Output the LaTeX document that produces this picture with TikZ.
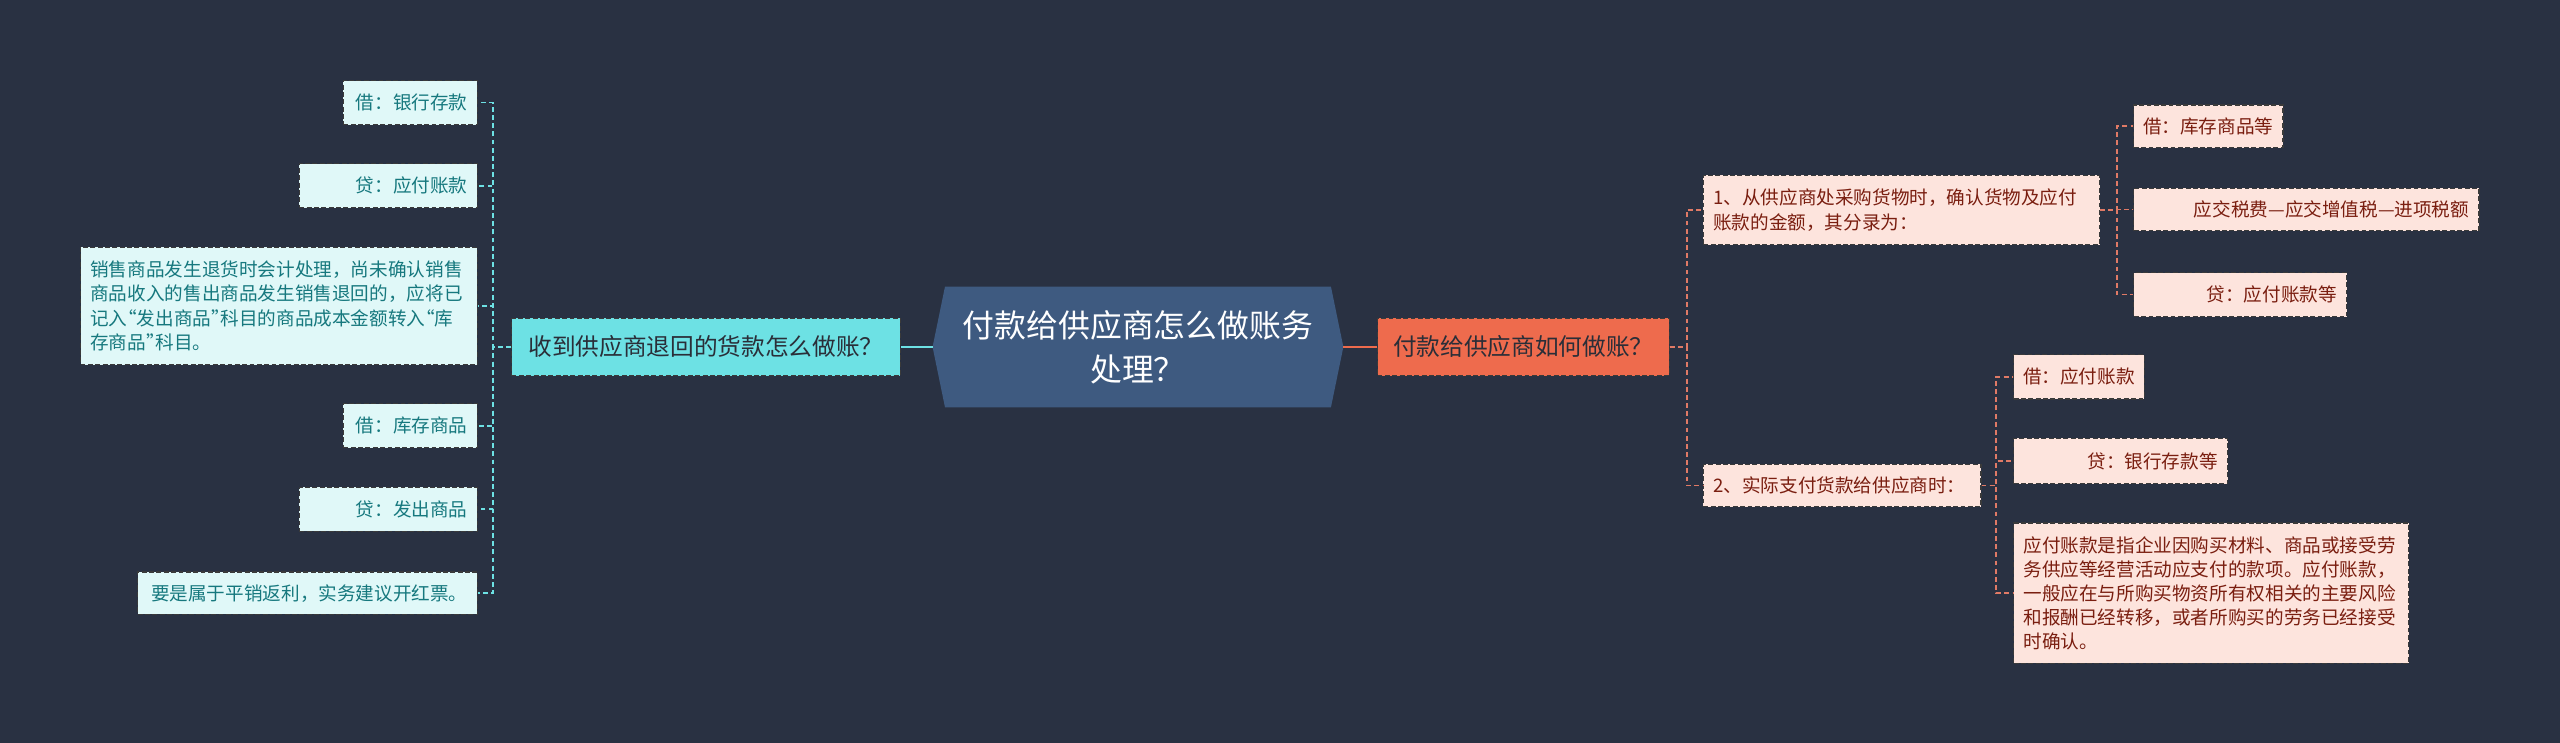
\documentclass[tikz,border=0pt]{standalone}
\usepackage{fontspec}
\newfontfamily\cjk{Noto Sans CJK SC}
\usetikzlibrary{backgrounds}
\definecolor{bgc}{HTML}{293142}
\definecolor{cfill}{HTML}{3E5A80}
\definecolor{cyanc}{HTML}{6DE1E4}
\definecolor{lfill}{HTML}{E0F8F8}
\definecolor{ltext}{HTML}{16787E}
\definecolor{orangec}{HTML}{EE6B4D}
\definecolor{rfill}{HTML}{FDE4DD}
\definecolor{rtext}{HTML}{7A1E10}
\definecolor{oline}{HTML}{E07A66}
\definecolor{bord}{HTML}{3A3A3A}
\definecolor{btext}{HTML}{2A2E38}
\newcommand{\myoq}{\makebox[0.5em][r]{“}}
\newcommand{\mycq}{\makebox[0.5em][l]{”}}
\tikzset{
  leaf/.style={draw=bord, dash pattern=on 3pt off 1.5pt, line width=0.7pt, inner xsep=6pt, inner ysep=0pt, anchor=north west, font=\cjk\fontsize{11.4}{14.8}\selectfont},
  lleaf/.style={leaf, fill=lfill, text=ltext},
  rleaf/.style={leaf, fill=rfill, text=rtext},
  lconn/.style={draw=cyanc, line width=1pt, dash pattern=on 3pt off 2pt},
  rconn/.style={draw=oline, line width=1pt, dash pattern=on 3pt off 2pt},
  branch/.style={draw=bord, dash pattern=on 3pt off 1.5pt, line width=0.7pt, inner xsep=6pt, inner ysep=0pt, anchor=west, font=\cjk\fontsize{14.5}{18}\selectfont, minimum height=35pt},
  rootnode/.style={inner sep=0pt, minimum width=236pt, minimum height=73.5pt, align=center, text=white, font=\cjk\fontsize{19.5}{27}\selectfont}
}
\begin{document}
\begin{tikzpicture}[x=1pt,y=-1pt]
\useasboundingbox (0,0) rectangle (1568,455);
% root
\node[rootnode] (c) at (697,212.5) {付款给供应商怎么做账务\\处理？};
\begin{scope}[on background layer]
  \fill[bgc] (0,0) rectangle (1568,455);
  \fill[cfill] (c.north west) -- (c.north east) -- ([xshift=7.6pt]c.east) -- (c.south east) -- (c.south west) -- ([xshift=-7.6pt]c.west) -- cycle;
\end{scope}
% branches
\node[branch, fill=cyanc, text=btext, minimum width=238pt] (lb) at (313,212.5) {收到供应商退回的货款怎么做账？};
\node[branch, fill=orangec, text=btext, minimum width=178.6pt] (rb) at (843.4,212.5) {付款给供应商如何做账？};
% left leaves
\node[lleaf, minimum width=82pt, minimum height=27pt, text width=70pt, align=right] (L1) at (210,49) {借：银行存款};
\node[lleaf, minimum width=109pt, minimum height=27pt, text width=97pt, align=right] (L2) at (183,100) {贷：应付账款};
\node[lleaf, minimum width=243pt, minimum height=72pt, text width=231pt, align=left] (L3) at (49,151) {销售商品发生退货时会计处理，尚未确认销售\\商品收入的售出商品发生销售退回的，应将已\\记入\myoq 发出商品\mycq 科目的商品成本金额转入\myoq 库\\存商品\mycq 科目。};
\node[lleaf, minimum width=82pt, minimum height=27pt, text width=70pt, align=right] (L4) at (210,247) {借：库存商品};
\node[lleaf, minimum width=109pt, minimum height=27pt, text width=97pt, align=right] (L5) at (183,298) {贷：发出商品};
\node[lleaf, minimum width=208pt, minimum height=26pt, text width=196pt, align=right] (L6) at (84,350) {要是属于平销返利，实务建议开红票。};
% right level 2
\node[rleaf, minimum width=242.6pt, minimum height=42.6pt, text width=230.6pt, align=left] (R1) at (1043,107) {1、从供应商处采购货物时，确认货物及应付\\账款的金额，其分录为：};
\node[rleaf, minimum width=170pt, minimum height=26pt, text width=158pt, align=left] (R2) at (1043,284) {2、实际支付货款给供应商时：};
% right level 3
\node[rleaf, minimum width=91.4pt, minimum height=26pt, text width=80pt, inner xsep=5.7pt, align=left] (R1a) at (1306.6,64) {借：库存商品等};
\node[rleaf, minimum width=211.4pt, minimum height=26pt, text width=199.4pt, align=right] (R1b) at (1306.6,115) {应交税费—应交增值税—进项税额};
\node[rleaf, minimum width=130.4pt, minimum height=27pt, text width=118.4pt, align=right] (R1c) at (1306.6,166.6) {贷：应付账款等};
\node[rleaf, minimum width=80pt, minimum height=27pt, text width=68.4pt, inner xsep=5.8pt, align=left] (R2a) at (1233,217) {借：应付账款};
\node[rleaf, minimum width=131pt, minimum height=28pt, text width=119pt, align=right] (R2b) at (1233,268) {贷：银行存款等};
\node[rleaf, minimum width=242pt, minimum height=86pt, text width=230pt, align=left] (R2c) at (1233,320) {应付账款是指企业因购买材料、商品或接受劳\\务供应等经营活动应支付的款项。应付账款，\\一般应在与所购买物资所有权相关的主要风险\\和报酬已经转移，或者所购买的劳务已经接受\\时确认。};
% root connectors
\draw[cyanc, line width=1.5pt] ([xshift=-7.6pt]c.west) -- (lb.east);
\draw[orangec, line width=1.5pt] ([xshift=7.6pt]c.east) -- (rb.west);
% left connectors
\foreach \n in {L1,L2,L3,L4,L5,L6}
  \draw[lconn] (lb.west) -- ++(-11,0) |- (\n.east);
% right connectors
\foreach \n in {R1,R2}
  \draw[rconn] (rb.east) -- ++(10.6,0) |- (\n.west);
\foreach \n in {R1a,R1b,R1c}
  \draw[rconn] (R1.east) -- ++(10.4,0) |- (\n.west);
\foreach \n in {R2a,R2b,R2c}
  \draw[rconn] (R2.east) -- ++(9,0) |- (\n.west);
\end{tikzpicture}
\end{document}
